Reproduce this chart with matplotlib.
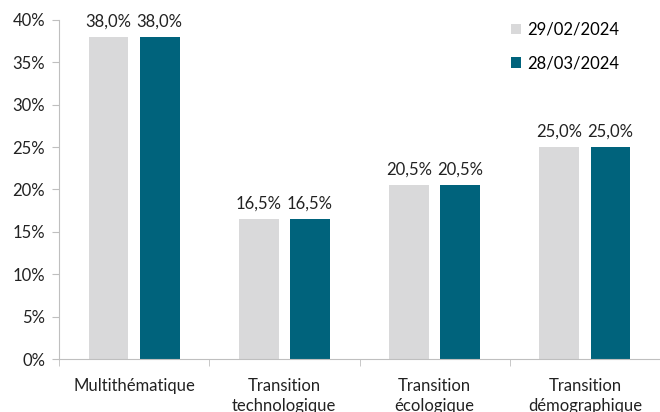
import matplotlib.pyplot as plt
import numpy as np
from matplotlib.ticker import FuncFormatter, FixedLocator

categories = ["Multithématique", "Transition\ntechnologique", "Transition\nécologique", "Transition\ndémographique"]
series_names = ["29/02/2024", "28/03/2024"]
values_feb = [38.0, 16.5, 20.5, 25.0]
values_mar = [38.0, 16.5, 20.5, 25.0]
colors = ["#D9D9DA", "#00637C"]

plt.rcParams['font.family'] = ['Lato', 'DejaVu Sans']
fs = 12

fig = plt.figure(figsize=(6.6, 4.12), dpi=100)
ax = fig.add_axes([0.0894, 0.1286, 0.9106, 0.8229])

x = np.arange(len(categories))
w = 0.265
off = 0.17
for vals, dx, c, name in zip([values_feb, values_mar], [-off, off], colors, series_names):
	bars = ax.bar(x + dx, vals, w, color=c, label=name)
	for b, v in zip(bars, vals):
		ax.text(b.get_x() + b.get_width() / 2, v + 0.9, ("%.1f%%" % v).replace(".", ","),
			ha="center", va="bottom", fontsize=fs, color="#222222")

ax.set_xlim(-0.5, len(categories) - 0.5)
ax.set_ylim(0, 40)
ax.set_yticks(np.arange(0, 41, 5))
ax.yaxis.set_major_formatter(FuncFormatter(lambda v, p: "%d%%" % v))
ax.set_xticks(x)
ax.set_xticklabels(categories, fontsize=fs, color="#222222", linespacing=1.3)
ax.xaxis.set_minor_locator(FixedLocator(np.arange(-0.5, len(categories), 1.0)))
ax.tick_params(axis="x", which="major", length=0, pad=14)
ax.tick_params(axis="x", which="minor", length=5, color="#BFBFBF", direction="out")
ax.tick_params(axis="y", length=5, color="#BFBFBF", labelsize=fs, labelcolor="#222222", pad=5)

for s in ["top", "right"]:
	ax.spines[s].set_visible(False)
for s in ["left", "bottom"]:
	ax.spines[s].set_color("#BFBFBF")

ax.legend(loc="upper left", bbox_to_anchor=(0.752, 0.995), frameon=False, fontsize=fs,
	borderpad=0, borderaxespad=0, handlelength=0.6, handleheight=0.6,
	handletextpad=0.35, labelspacing=1.05)

fig.savefig("out.png", dpi=100)
